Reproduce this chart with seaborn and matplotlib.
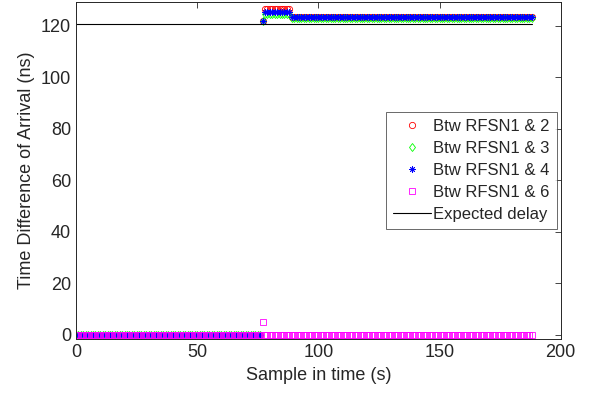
import numpy as np
import pandas as pd
import seaborn as sns
import matplotlib.pyplot as plt
from matplotlib.lines import Line2D

# sample index in seconds
t = np.arange(0, 189)

# values, piecewise: before jump / jump / first block / rest
n_zero, n_block, n_rest = 77, 11, 100
tdoa_2 = [0.0] * n_zero + [121.9] + [126.5] * n_block + [123.4] * n_rest
tdoa_3 = [0.0] * n_zero + [121.7] + [124.3] * n_block + [123.1] * n_rest
tdoa_4 = [0.0] * n_zero + [121.6] + [125.3] * n_block + [123.3] * n_rest
tdoa_6 = [0.0] * n_zero + [5.0] + [0.0] * n_block + [0.0] * n_rest
expected_x = [0, 188]
expected_y = [120.5, 120.5]

series = [
    ("Btw RFSN1 & 2", tdoa_2, "o", "#ff0000"),
    ("Btw RFSN1 & 3", tdoa_3, "d", "#00ff00"),
    ("Btw RFSN1 & 4", tdoa_4, (8, 2, 0), "#0000ff"),
    ("Btw RFSN1 & 6", tdoa_6, "s", "#ff00ff"),
]

sns.set_style("white")
plt.rcParams['font.family'] = ['Liberation Sans', 'DejaVu Sans']

fig = plt.figure(figsize=(5.94, 3.98), dpi=100)
ax = fig.add_axes([0.128, 0.1475, 0.816, 0.848])

handles = []
for label, vals, mk, col in series:
    df = pd.DataFrame({"t": t, "v": vals})
    sns.lineplot(data=df, x="t", y="v", ax=ax, linestyle="none", marker=mk,
                 markersize=4.5, markerfacecolor="none", markeredgecolor=col,
                 markeredgewidth=0.6, color=col)
    handles.append(Line2D([], [], linestyle="none", marker=mk, markersize=4.5,
                          markerfacecolor="none", markeredgecolor=col,
                          markeredgewidth=0.6, label=label))

sns.lineplot(x=expected_x, y=expected_y, ax=ax, color="black", linewidth=0.8)
handles.append(Line2D([], [], color="black", linewidth=0.8, label="Expected delay"))

ax.set_xlim(0, 200)
ax.set_ylim(-1.7, 129.2)
ax.set_xticks([0, 50, 100, 150, 200])
ax.set_yticks([0, 20, 40, 60, 80, 100, 120])
ax.set_xlabel("Sample in time (s)", fontsize=13, color="#262626")
ax.set_ylabel("Time Difference of Arrival (ns)", fontsize=13, color="#262626")
ax.tick_params(direction="in", length=4, width=0.6, top=True, right=True,
               labelsize=13, colors="#262626")
for s in ax.spines.values():
    s.set_color("#262626")
    s.set_linewidth(0.7)

leg = ax.legend(handles=handles, loc="center right", fontsize=12, frameon=True,
                fancybox=False, edgecolor="#262626", borderpad=0.4,
                labelspacing=0.42, handlelength=2.3, handletextpad=0.15,
                borderaxespad=0.25)
leg.get_frame().set_linewidth(0.6)

fig.savefig("out.png", dpi=100)
